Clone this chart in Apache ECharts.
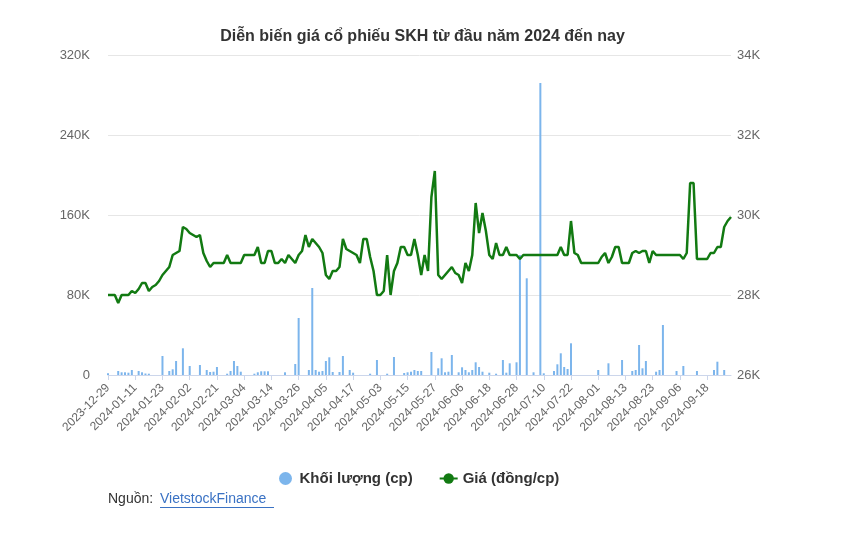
<!DOCTYPE html>
<html>
<head>
<meta charset="utf-8">
<script src="https://cdn.jsdelivr.net/npm/echarts@6/dist/echarts.min.js"></script>
<style>
html,body{margin:0;padding:0;background:#fff;}
#chart{width:845px;height:537px;}
</style>
</head>
<body>
<div id="chart"></div>
<script>
var dates = [
"2023-12-29",
"2024-01-02","2024-01-03","2024-01-04","2024-01-05","2024-01-08","2024-01-09","2024-01-10","2024-01-11","2024-01-12","2024-01-15","2024-01-16","2024-01-17","2024-01-18","2024-01-19","2024-01-22","2024-01-23","2024-01-24","2024-01-25","2024-01-26","2024-01-29","2024-01-30","2024-01-31",
"2024-02-01","2024-02-02","2024-02-05","2024-02-06","2024-02-07","2024-02-15","2024-02-16","2024-02-19","2024-02-20","2024-02-21","2024-02-22","2024-02-23","2024-02-26","2024-02-27","2024-02-28","2024-02-29",
"2024-03-01","2024-03-04","2024-03-05","2024-03-06","2024-03-07","2024-03-08","2024-03-11","2024-03-12","2024-03-13","2024-03-14","2024-03-15","2024-03-18","2024-03-19","2024-03-20","2024-03-21","2024-03-22","2024-03-25","2024-03-26","2024-03-27","2024-03-28","2024-03-29",
"2024-04-01","2024-04-02","2024-04-03","2024-04-04","2024-04-05","2024-04-08","2024-04-09","2024-04-10","2024-04-11","2024-04-12","2024-04-15","2024-04-16","2024-04-17","2024-04-19","2024-04-22","2024-04-23","2024-04-24","2024-04-25","2024-04-26",
"2024-05-02","2024-05-03","2024-05-06","2024-05-07","2024-05-08","2024-05-09","2024-05-10","2024-05-13","2024-05-14","2024-05-15","2024-05-16","2024-05-17","2024-05-20","2024-05-21","2024-05-22","2024-05-23","2024-05-24","2024-05-27","2024-05-28","2024-05-29","2024-05-30","2024-05-31",
"2024-06-03","2024-06-04","2024-06-05","2024-06-06","2024-06-07","2024-06-10","2024-06-11","2024-06-12","2024-06-13","2024-06-14","2024-06-17","2024-06-18","2024-06-19","2024-06-20","2024-06-21","2024-06-24","2024-06-25","2024-06-26","2024-06-27","2024-06-28",
"2024-07-01","2024-07-02","2024-07-03","2024-07-04","2024-07-05","2024-07-08","2024-07-09","2024-07-10","2024-07-11","2024-07-12","2024-07-15","2024-07-16","2024-07-17","2024-07-18","2024-07-19","2024-07-22","2024-07-23","2024-07-24","2024-07-25","2024-07-26","2024-07-29","2024-07-30","2024-07-31",
"2024-08-01","2024-08-02","2024-08-05","2024-08-06","2024-08-07","2024-08-08","2024-08-09","2024-08-12","2024-08-13","2024-08-14","2024-08-15","2024-08-16","2024-08-19","2024-08-20","2024-08-21","2024-08-22","2024-08-23","2024-08-26","2024-08-27","2024-08-28","2024-08-29","2024-08-30",
"2024-09-04","2024-09-05","2024-09-06","2024-09-09","2024-09-10","2024-09-11","2024-09-12","2024-09-13","2024-09-16","2024-09-17","2024-09-18","2024-09-19","2024-09-20","2024-09-23","2024-09-24","2024-09-25","2024-09-26","2024-09-27"
];

// Khối lượng (cp)
var volume = [
1700,0,0,4000,2700,2700,2300,5000,0,4000,
2700,1500,1300,0,0,0,19000,0,4000,5700,
14000,0,26700,0,9000,0,0,10000,0,5000,
3000,3300,8000,0,0,1300,4000,14000,9000,3300,
0,0,0,1300,2700,3700,3700,3700,0,0,
0,0,2700,0,0,11000,57000,0,0,5000,
87000,5000,3300,4000,14000,17700,3000,0,3000,19000,
0,5000,2300,0,0,0,0,1300,0,15000,
0,0,1300,0,18000,0,0,2000,2700,3300,
5000,4000,4000,0,0,23000,0,6700,16700,2700,
3300,20000,0,2700,7700,5000,2700,5000,12700,8000,
3300,0,2300,0,1300,0,15000,2300,11700,0,
12700,120000,0,96700,0,2700,0,292000,1700,0,
0,4000,10700,21700,8000,6000,31700,0,0,0,
0,0,0,0,5000,0,0,11700,0,0,
0,15000,0,0,4000,5000,30000,6700,14000,0,
0,3300,5000,50000,0,0,0,4000,0,9000,
0,0,0,4000,0,0,0,0,5000,13300,
0,5000,0,0
];

// Giá (đồng/cp)
var price = [
28000,28000,28000,27800,28000,28000,28000,28100,28050,28150,
28300,28300,28100,28200,28250,28350,28500,28600,28700,29000,
29050,29100,29700,29650,29550,29500,29450,29500,29050,28850,
28700,28800,28800,28800,28800,29000,28800,28800,28800,28800,
29000,29000,29000,29000,29200,28800,28800,29100,29100,28800,
28800,28900,28800,29000,28900,28800,29000,29100,29500,29200,
29400,29300,29200,29050,28500,28400,28600,28600,28700,29400,
29150,29100,29050,29000,28800,29400,29400,28950,28600,28000,
28000,28100,29000,28000,28600,28800,29200,29200,29000,29000,
29400,29000,28500,29000,28600,30450,31100,28500,28400,28500,
28600,28700,28550,28500,28300,28800,28600,29000,30300,29550,
30050,29600,29000,28900,29300,29000,29000,29200,29000,29000,
29000,28900,29000,29000,29000,29000,29000,29000,29000,29000,
29000,29000,29000,29200,29000,29000,29850,29050,29000,28800,
28800,28800,28800,28800,28800,28950,29050,28800,28950,29200,
29200,28800,28800,28800,29050,29100,29050,29100,29100,28800,
29100,29000,29000,29000,29000,29000,29000,29000,29000,28900,
29050,30800,30800,28900,28900,28900,28900,29050,29050,29200,
29200,29700,29850,29950
];

var volTicks = [0, 80000, 320000];     // min, interval, max (left axis)
var priceTicks = [26000, 2000, 34000]; // min, interval, max (right axis)

var titleText = "Diễn biến giá cổ phiếu SKH từ đầu năm 2024 đến nay";
var seriesNames = ["Khối lượng (cp)", "Giá (đồng/cp)"];

var FONT = "'Liberation Sans', Arial, sans-serif";
var chart = echarts.init(document.getElementById('chart'), null, {renderer: 'canvas'});
function kfmt(v){ return v === 0 ? '0' : (v/1000) + 'K'; }

chart.setOption({
  animation: false,
  backgroundColor: '#ffffff',
  title: {
    text: titleText,
    left: 'center',
    top: 24,
    textStyle: {fontFamily: FONT, fontSize: 16, fontWeight: 'bold', color: '#333333'}
  },
  legend: {
    top: 466,
    left: 274,
    itemGap: 26,
    itemWidth: 18,
    itemHeight: 13,
    textStyle: {fontFamily: FONT, fontSize: 15, fontWeight: 'bold', color: '#333333'},
    data: [
      {name: seriesNames[0], icon: 'circle'},
      {name: seriesNames[1]}
    ]
  },
  grid: {left: 108, right: 114, top: 55, bottom: 162},
  xAxis: {
    type: 'category',
    data: dates,
    boundaryGap: false,
    axisLine: {lineStyle: {color: '#ccd6eb'}},
    axisTick: {show: true, interval: 7, length: 5, lineStyle: {color: '#ccd6eb'}},
    axisLabel: {interval: 7, rotate: 45, margin: 11, color: '#666666', fontFamily: FONT, fontSize: 12},
    splitLine: {show: false}
  },
  yAxis: [
    {
      type: 'value', min: volTicks[0], max: volTicks[2], interval: volTicks[1],
      axisLine: {show: false}, axisTick: {show: false},
      axisLabel: {formatter: kfmt, color: '#666666', fontFamily: FONT, fontSize: 13, margin: 18},
      splitLine: {lineStyle: {color: '#e6e6e6'}}
    },
    {
      type: 'value', min: priceTicks[0], max: priceTicks[2], interval: priceTicks[1],
      axisLine: {show: false}, axisTick: {show: false},
      axisLabel: {formatter: kfmt, color: '#666666', fontFamily: FONT, fontSize: 13, margin: 6},
      splitLine: {show: false}
    }
  ],
  series: [
    {
      name: seriesNames[0], type: 'bar', yAxisIndex: 0, data: volume,
      barWidth: 2, itemStyle: {color: '#7cb5ec'}
    },
    {
      name: seriesNames[1], type: 'line', yAxisIndex: 1, data: price,
      symbol: 'circle', symbolSize: 8, showSymbol: false,
      lineStyle: {width: 2.5, color: '#127a12'}, itemStyle: {color: '#127a12'}
    }
  ],
  graphic: [
    {type: 'text', left: 108, top: 492, style: {text: 'Nguồn: ', fill: '#333333', font: '14px ' + FONT}},
    {type: 'text', left: 160, top: 492, style: {text: 'VietstockFinance', fill: '#3a72c4', font: '14px ' + FONT}},
    {type: 'rect', left: 160, top: 507, shape: {width: 114, height: 1}, style: {fill: '#3a72c4'}}
  ]
});
</script>
</body>
</html>
